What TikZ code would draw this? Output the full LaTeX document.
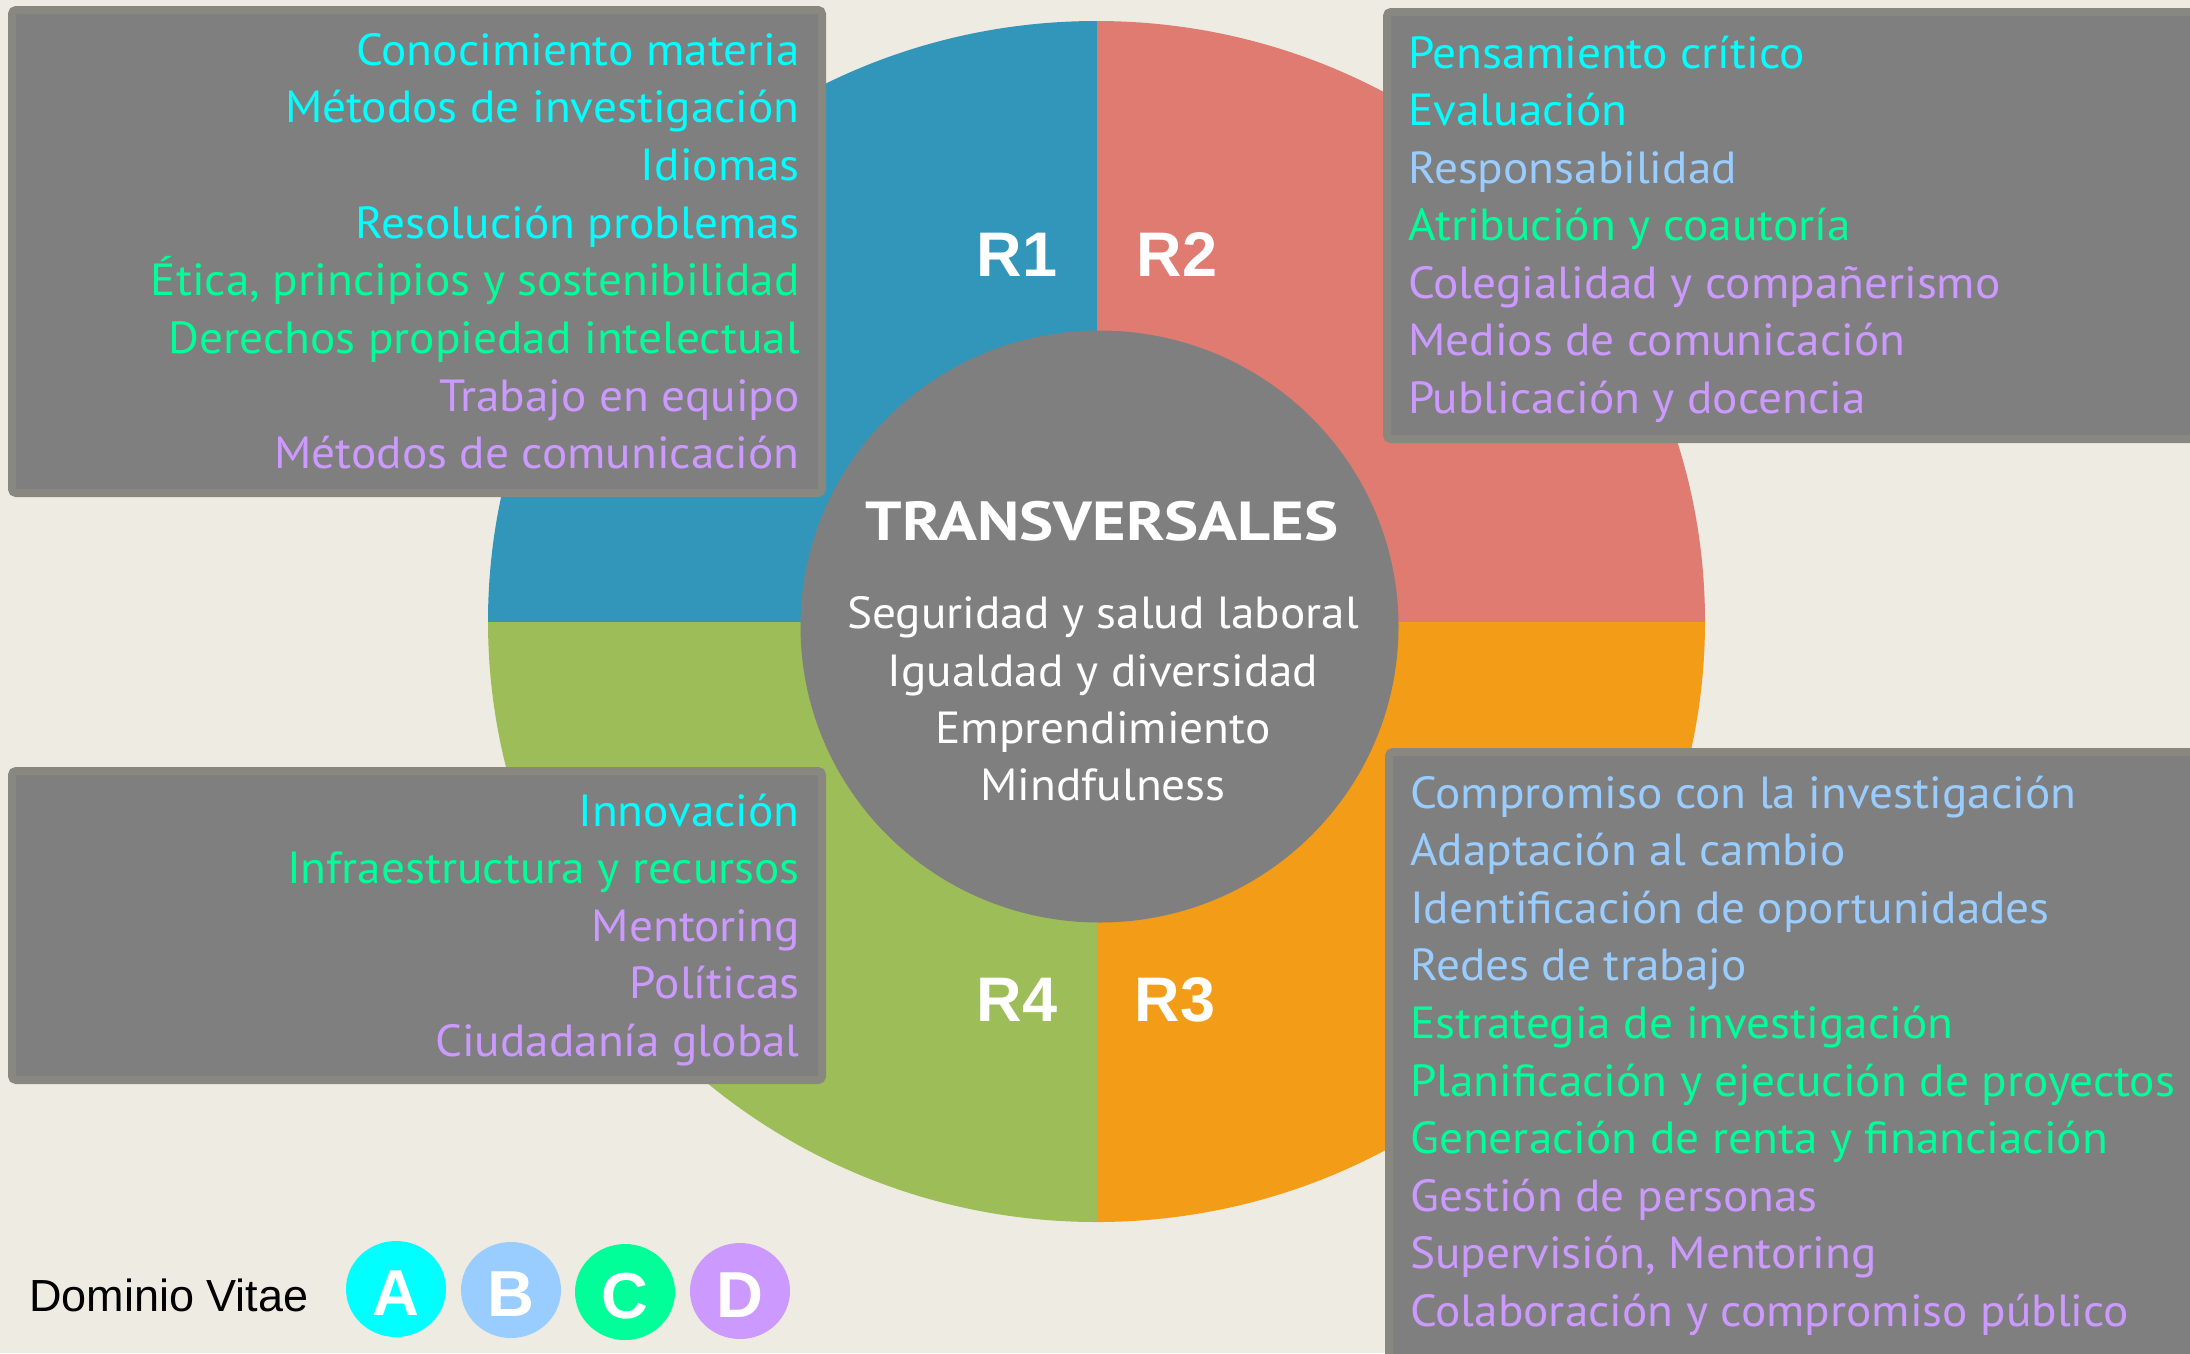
\documentclass[tikz,border=0pt]{standalone}
\usepackage{fontspec}
\usetikzlibrary{shapes.geometric}
\setmainfont{PT Sans}[FakeStretch=1.05]
\newfontfamily\tvf{PT Sans}[FakeStretch=1.17]
\newfontfamily\arialf{Liberation Sans}
\definecolor{bgc}{RGB}{238,235,227}
\definecolor{qblue}{RGB}{50,150,187}
\definecolor{qsalmon}{RGB}{223,123,113}
\definecolor{qorange}{RGB}{243,156,24}
\definecolor{qgreen}{RGB}{156,189,87}
\definecolor{greyf}{RGB}{127,127,127}
\definecolor{greyb}{RGB}{137,136,128}
\definecolor{ca}{RGB}{0,255,255}
\definecolor{cb}{RGB}{153,204,255}
\definecolor{cc}{RGB}{0,255,153}
\definecolor{cd}{RGB}{204,153,255}
\tikzset{
  boxs/.style={draw=greyb,fill=greyf,line width=8pt,rounded corners=4pt},
  itm/.style={inner sep=0pt,font=\fontsize{45}{54}\selectfont},
  itmR/.style={itm,anchor=base east},
  itmL/.style={itm,anchor=base west},
  rlab/.style={inner sep=0pt,anchor=base,text=white,font=\arialf\bfseries\fontsize{63}{70}\selectfont},
  ctr/.style={inner sep=0pt,anchor=base,text=white,font=\fontsize{45}{54}\selectfont},
  dom/.style={inner sep=0pt,text=white,font=\arialf\bfseries\fontsize{65}{70}\selectfont},
  disc/.style={ellipse,minimum width=100pt,minimum height=96pt,inner sep=0pt}
}
\begin{document}
\begin{tikzpicture}[x=1pt,y=-1pt]
\fill[bgc] (0,0) rectangle (2190,1353);
\useasboundingbox (0,0) rectangle (2190,1353);
% big circle quadrants
\coordinate (c) at (1096.5,621.5);
\begin{scope}
\clip (c) ellipse [x radius=608.5, y radius=600.5];
\fill[qblue] (c) rectangle (480,10);
\fill[qsalmon] (c) rectangle (1720,10);
\fill[qorange] (c) rectangle (1720,1240);
\fill[qgreen] (c) rectangle (480,1240);
\end{scope}
\node[fill=greyf,ellipse,minimum width=598pt,minimum height=592pt,inner sep=0pt] (inner) at (1099.5,626.5) {};
% R labels
\node[rlab] (r1) at (1017,276) {R1};
\node[rlab] (r2) at (1177,276) {R2};
\node[rlab] (r4) at (1017,1021) {R4};
\node[rlab] (r3) at (1175,1021) {R3};
% centre text
\node[ctr,font=\tvf\bfseries\fontsize{55}{60}\selectfont] (tv) at (1102,540) {TRANSVERSALES};
\node[ctr] (c1) at (1103,628) {Seguridad y salud laboral};
\node[ctr] (c2) at (1103,686) {Igualdad y diversidad};
\node[ctr] (c3) at (1103,743) {Emprendimiento};
\node[ctr] (c4) at (1103,800) {Mindfulness};
% boxes
\draw[boxs] (12,10) rectangle (822,493);
\draw[boxs] (1387,12) rectangle (2205,439);
\draw[boxs] (1389,752) rectangle (2205,1370);
\draw[boxs] (12,771) rectangle (822,1080);
% TL items
\foreach \t/\cl [count=\i] in {Conocimiento materia/ca, Métodos de investigación/ca, Idiomas/ca, Resolución problemas/ca, {Ética, principios y sostenibilidad}/cc, Derechos propiedad intelectual/cc, Trabajo en equipo/cd, Métodos de comunicación/cd}
  \node[itmR,text=\cl] (tl\i) at (800,{65+57.7*(\i-1)}) {\t};
% TR items
\foreach \t/\cl [count=\i] in {Pensamiento crítico/ca, Evaluación/ca, Responsabilidad/cb, Atribución y coautoría/cc, Colegialidad y compañerismo/cd, Medios de comunicación/cd, Publicación y docencia/cd}
  \node[itmL,text=\cl] (tr\i) at (1408,{68+57.5*(\i-1)}) {\t};
% BR items
\foreach \t/\cl [count=\i] in {Compromiso con la investigación/cb, Adaptación al cambio/cb, Identificación de oportunidades/cb, Redes de trabajo/cb, Estrategia de investigación/cc, Planificación y ejecución de proyectos/cc, Generación de renta y financiación/cc, Gestión de personas/cd, {Supervisión, Mentoring}/cd, Colaboración y compromiso público/cd}
  \node[itmL,text=\cl] (br\i) at (1410,{808+57.6*(\i-1)}) {\t};
% BL items
\foreach \t/\cl [count=\i] in {Innovación/ca, Infraestructura y recursos/cc, Mentoring/cd, Políticas/cd, Ciudadanía global/cd}
  \node[itmR,text=\cl] (bl\i) at (800,{826+57.6*(\i-1)}) {\t};
% legend
\node[inner sep=0pt,anchor=base west,font=\arialf\fontsize{45}{50}\selectfont] (dv) at (29,1311) {Dominio Vitae};
\node[disc,fill=ca] (la) at (396,1289) {};
\node[disc,fill=cb] (lb) at (511,1290) {};
\node[disc,fill=cc] (lc) at (625,1292) {};
\node[disc,fill=cd] (ld) at (740,1291) {};
\node[dom] (ta) at (396,1293) {A};
\node[dom] (tb) at (511,1294) {B};
\node[dom] (tc) at (625,1296) {C};
\node[dom] (td) at (740,1295) {D};
\end{tikzpicture}
\end{document}
